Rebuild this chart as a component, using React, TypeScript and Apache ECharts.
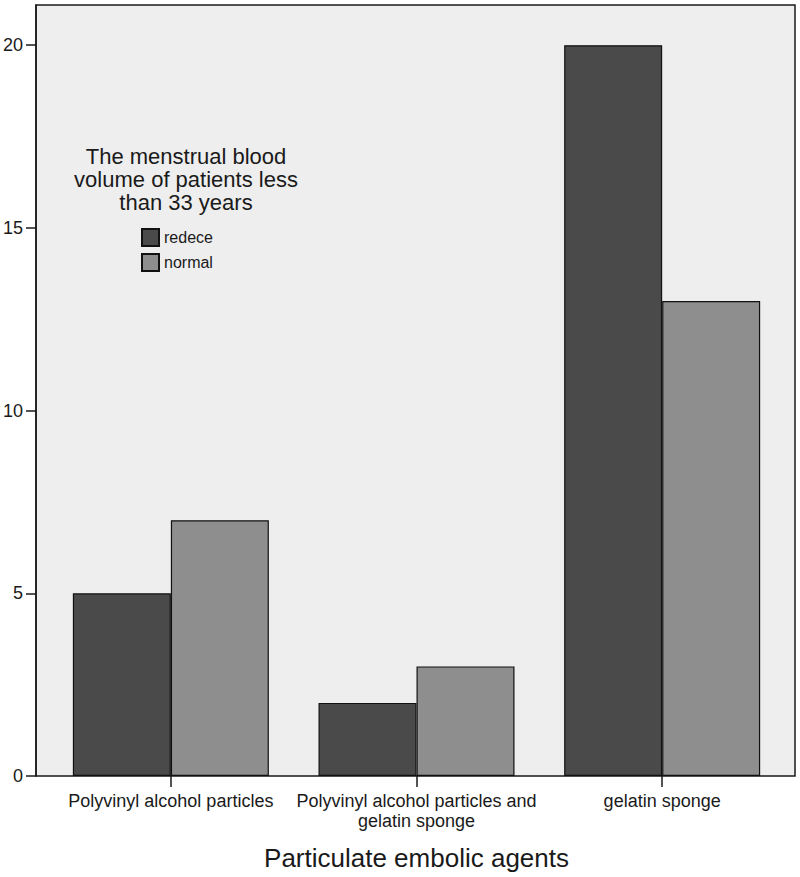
import React, { useEffect, useRef } from "react";
import * as echarts from "echarts";

const categories = [
  "Polyvinyl alcohol particles",
  "Polyvinyl alcohol particles and\ngelatin sponge",
  "gelatin sponge",
];
const redeceValues = [5, 2, 20];
const normalValues = [7, 3, 13];
const yTicks = [0, 5, 10, 15, 20];
const legendTitle = "The menstrual blood\nvolume of patients less\nthan 33 years";
const xAxisTitle = "Particulate embolic agents";

const FONT = "Arial, 'Liberation Sans', Helvetica, sans-serif";

export default function App() {
  const ref = useRef<HTMLDivElement>(null);
  useEffect(() => {
    if (!ref.current) return;
    const chart = echarts.init(ref.current, undefined, { renderer: "svg" });
    chart.setOption({
      animation: false,
      backgroundColor: "#ffffff",
      textStyle: { fontFamily: FONT },
      grid: { left: 48, right: 15, top: 5, bottom: 101, containLabel: false },
      graphic: [
        {
          type: "rect",
          z: 0,
          shape: { x: 36, y: 5, width: 759, height: 771 },
          style: { fill: "#eeeeee", stroke: "#1a1a1a", lineWidth: 1.5 },
        },
        {
          type: "text",
          z: 10,
          x: 186,
          y: 145,
          style: {
            text: legendTitle,
            fill: "#1a1a1a",
            font: `22px ${FONT}`,
            textAlign: "center",
            lineHeight: 23,
          },
        },
      ],
      legend: {
        orient: "vertical",
        left: 136,
        top: 223,
        itemWidth: 17,
        itemHeight: 17,
        itemGap: 6,
        icon: "rect",
        textStyle: { fontSize: 16, color: "#1a1a1a", fontFamily: FONT },
        data: ["redece", "normal"],
      },
      xAxis: {
        type: "category",
        data: categories,
        name: xAxisTitle,
        nameLocation: "middle",
        nameGap: 69,
        nameTextStyle: { fontSize: 26, color: "#1a1a1a", fontFamily: FONT },
        axisLine: { show: false },
        axisTick: { show: true, alignWithLabel: true, length: 11, lineStyle: { color: "#1a1a1a", width: 1.5 } },
        axisLabel: { fontSize: 18, lineHeight: 20, margin: 15, color: "#1a1a1a", fontFamily: FONT, interval: 0 },
        splitLine: { show: false },
      },
      yAxis: {
        type: "value",
        min: 0,
        max: 21.1,
        interval: 5,
        offset: 12,
        axisLine: { show: true, lineStyle: { color: "#1a1a1a", width: 1.5 } },
        axisTick: { show: true, length: 10, customValues: yTicks, lineStyle: { color: "#1a1a1a", width: 1.5 } },
        axisLabel: { fontSize: 18, margin: 13, color: "#1a1a1a", fontFamily: FONT, customValues: yTicks },
        splitLine: { show: false },
      },
      series: [
        {
          name: "redece",
          type: "bar",
          data: redeceValues,
          barWidth: 98,
          barGap: "0%",
          z: 2,
          itemStyle: { color: "#4a4a4a", borderColor: "#111111", borderWidth: 1.2 },
        },
        {
          name: "normal",
          type: "bar",
          data: normalValues,
          barWidth: 98,
          barGap: "0%",
          z: 2,
          itemStyle: { color: "#8e8e8e", borderColor: "#111111", borderWidth: 1.2 },
        },
      ],
    });
    return () => chart.dispose();
  }, []);
  return (
    <div
      ref={ref}
      style={{ position: "fixed", left: 0, top: 0, width: 800, height: 877 }}
    />
  );
}
